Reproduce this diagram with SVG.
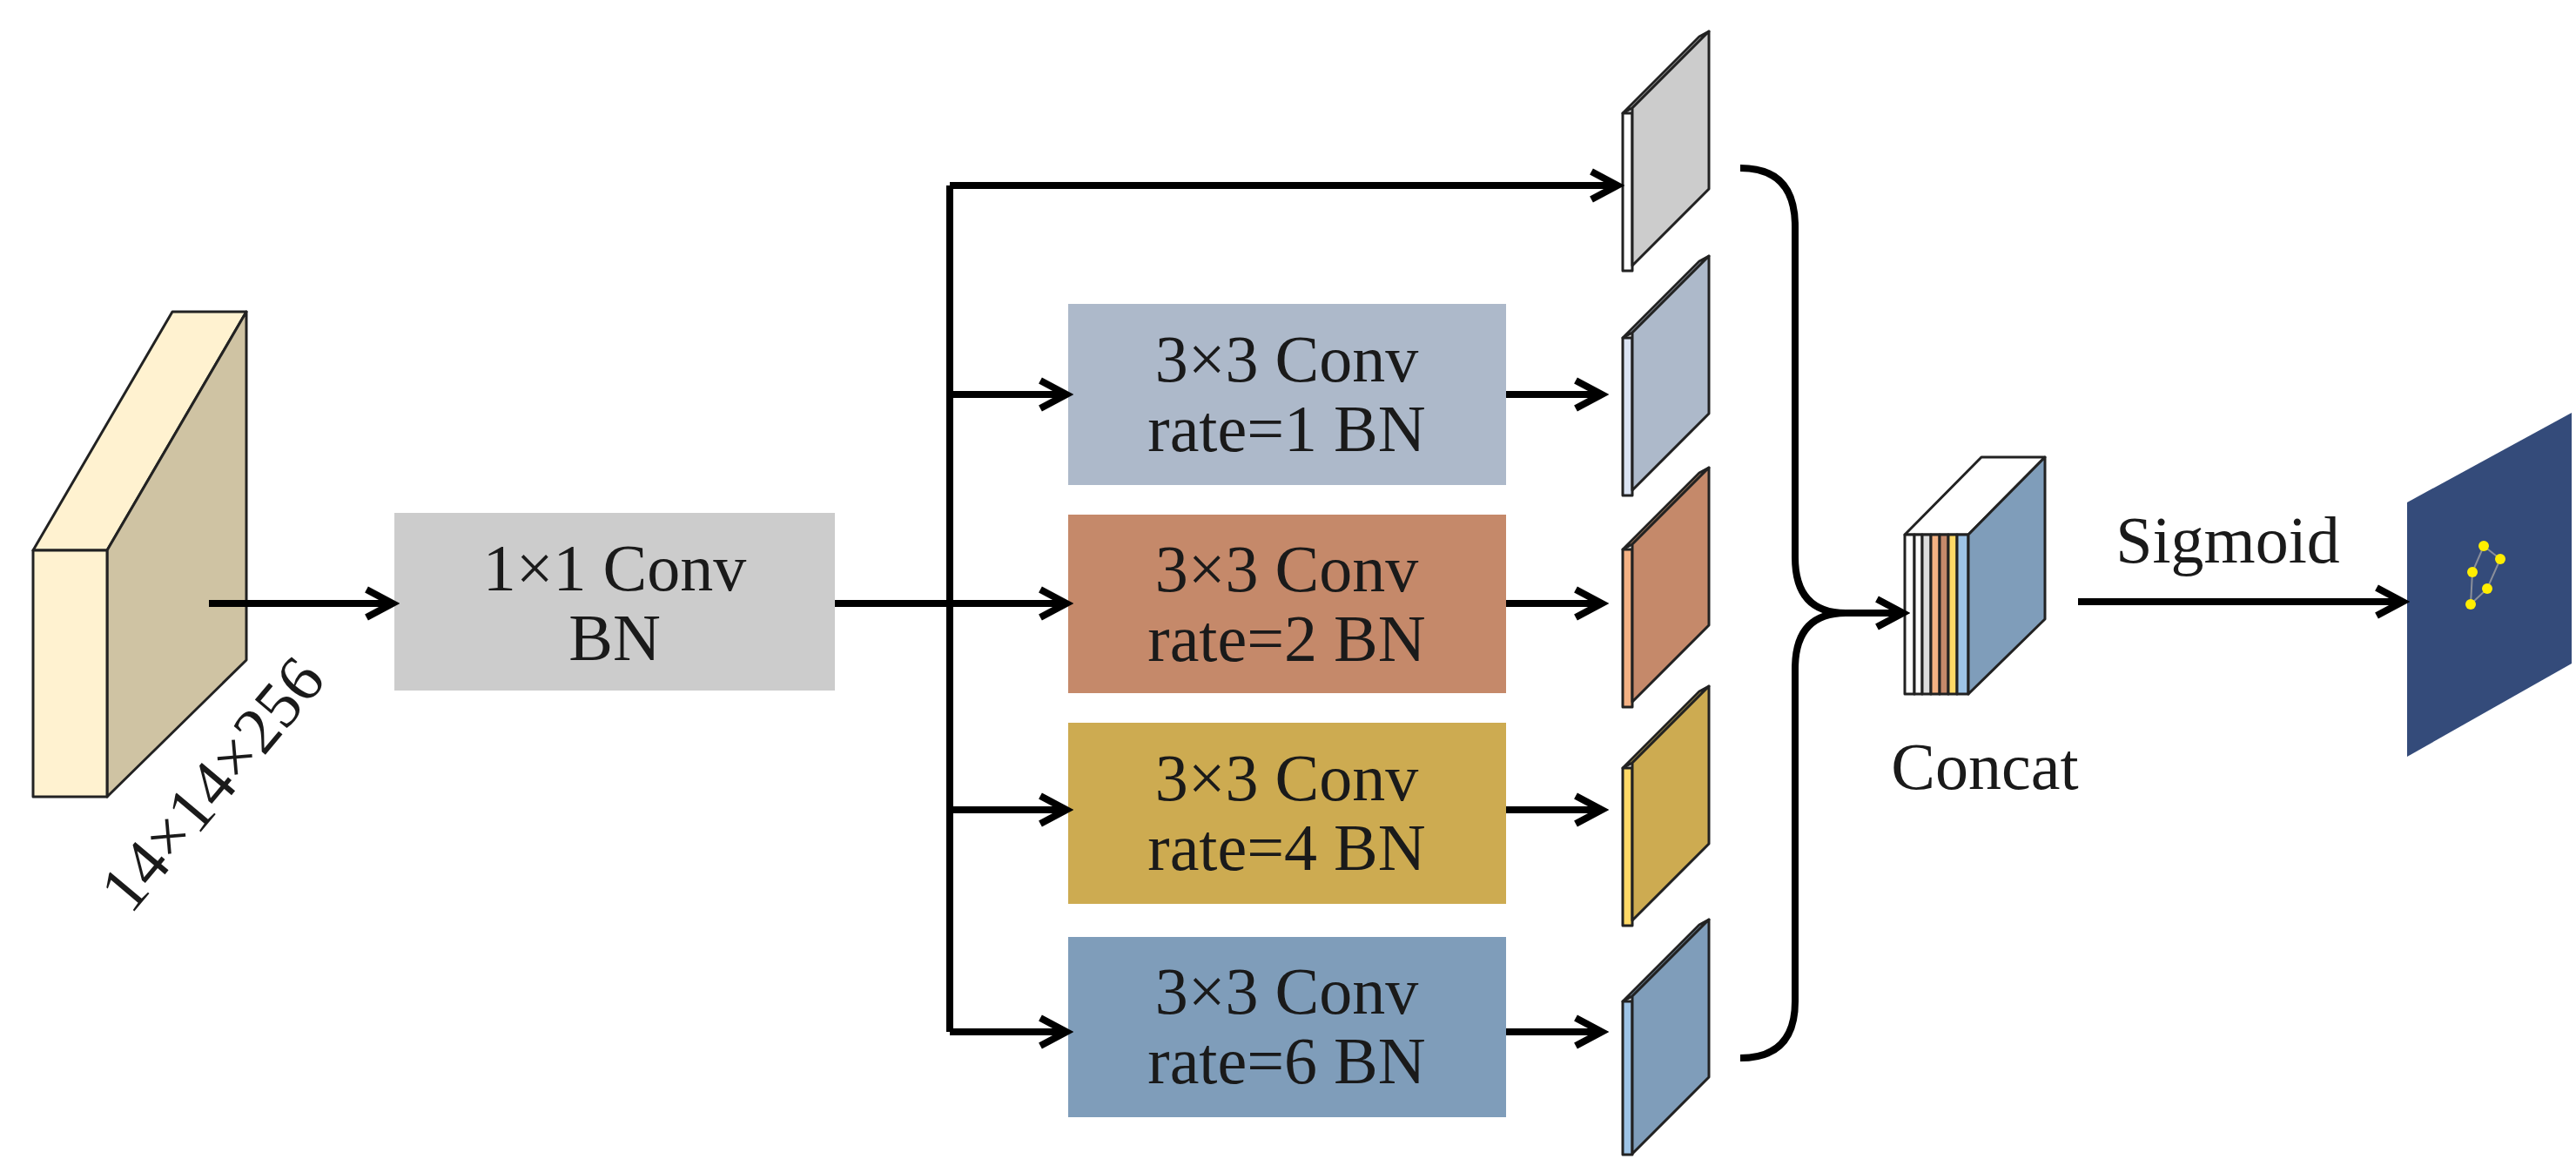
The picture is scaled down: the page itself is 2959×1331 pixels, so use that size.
<svg xmlns="http://www.w3.org/2000/svg" width="2959" height="1331" viewBox="0 0 2959 1331">
<defs>
<marker id="ah" markerUnits="userSpaceOnUse" markerWidth="44" markerHeight="44" refX="36" refY="20" orient="auto" viewBox="0 0 44 40">
<path d="M6,4 L36,20 L6,36" fill="none" stroke="#000" stroke-width="8" stroke-linejoin="miter"/>
</marker>
</defs>
<style>
text{font-family:"Liberation Serif","Times New Roman",serif;font-size:76px;fill:#1a1a1a;text-anchor:middle}
.c{fill:none;stroke:#000;stroke-width:8}
.a{fill:none;stroke:#000;stroke-width:8;marker-end:url(#ah)}
.s{stroke:#222;stroke-width:3;stroke-linejoin:round}
</style>
<rect width="2959" height="1331" fill="#fff"/>
<g id="input">
<polygon class="s" points="38,632 123,632 283,358 198,358" fill="#FFF2D0"/>
<polygon class="s" points="123,632 283,358 283,758 123,915" fill="#CFC3A3"/>
<rect class="s" x="38" y="632" width="85" height="283" fill="#FFF2D0"/>
<text transform="translate(243,900) rotate(-50)" y="26">14×14×256</text>
</g>
<g id="conv1">
<rect x="453" y="589" width="506" height="204" fill="#CCCCCC"/>
<text x="706" y="678">1×1 Conv</text>
<text x="706" y="758">BN</text>
</g>
<g id="b1"><rect x="1227" y="349" width="503" height="208" fill="#ADB9CA"/><text x="1478" y="438">3×3 Conv</text><text x="1478" y="518">rate=1 BN</text></g>
<g id="b2"><rect x="1227" y="591" width="503" height="205" fill="#C5896A"/><text x="1478" y="679">3×3 Conv</text><text x="1478" y="759">rate=2 BN</text></g>
<g id="b3"><rect x="1227" y="830" width="503" height="208" fill="#CDAB51"/><text x="1478" y="919">3×3 Conv</text><text x="1478" y="999">rate=4 BN</text></g>
<g id="b4"><rect x="1227" y="1076" width="503" height="207" fill="#7F9DBA"/><text x="1478" y="1164">3×3 Conv</text><text x="1478" y="1244">rate=6 BN</text></g>
<g id="slabs">
<g id="f0"><polygon class="s" points="1864,130 1875,124 1963,36 1952,42" fill="#F2F2F2"/><rect class="s" x="1864" y="130" width="11" height="181" fill="#FFFFFF"/><polygon class="s" points="1875,124 1963,36 1963,217 1875,305" fill="#CCCCCC"/></g>
<g id="f1"><polygon class="s" points="1864,388 1875,382 1963,294 1952,300" fill="#DAE3F3"/><rect class="s" x="1864" y="388" width="11" height="181" fill="#DAE3F3"/><polygon class="s" points="1875,382 1963,294 1963,475 1875,563" fill="#ADB9CA"/></g>
<g id="f2"><polygon class="s" points="1864,631 1875,625 1963,537 1952,543" fill="#F4B183"/><rect class="s" x="1864" y="631" width="11" height="181" fill="#F4B183"/><polygon class="s" points="1875,625 1963,537 1963,718 1875,806" fill="#C5896A"/></g>
<g id="f3"><polygon class="s" points="1864,882 1875,876 1963,788 1952,794" fill="#FFD966"/><rect class="s" x="1864" y="882" width="11" height="181" fill="#FFD966"/><polygon class="s" points="1875,876 1963,788 1963,969 1875,1057" fill="#CDAB51"/></g>
<g id="f4"><polygon class="s" points="1864,1150 1875,1144 1963,1056 1952,1062" fill="#9DC3E6"/><rect class="s" x="1864" y="1150" width="11" height="176" fill="#9DC3E6"/><polygon class="s" points="1875,1144 1963,1056 1963,1237 1875,1325" fill="#7F9DBA"/></g>
</g>
<g id="concat">
<polygon class="s" points="2188,614 2276,525 2349,525 2261,614" fill="#FFFFFF"/>
<rect class="s" x="2188" y="614" width="11" height="183" fill="#FFFFFF"/>
<rect class="s" x="2199" y="614" width="9" height="183" fill="#FFFFFF"/>
<rect class="s" x="2208" y="614" width="10" height="183" fill="#DDDDDD"/>
<rect class="s" x="2218" y="614" width="10" height="183" fill="#F4B183"/>
<rect class="s" x="2228" y="614" width="10" height="183" fill="#C5896A"/>
<rect class="s" x="2238" y="614" width="10" height="183" fill="#FFD966"/>
<rect class="s" x="2248" y="614" width="13" height="183" fill="#9DC3E6"/>
<polygon class="s" points="2261,614 2349,525 2349,711 2261,797" fill="#7F9DBA"/>
<text x="2280" y="906">Concat</text>
</g>
<g id="output">
<polygon points="2765,577 2954,474 2954,762 2765,869" fill="#344B7A"/>
<polyline points="2853,627 2872,642 2857,676 2838,694 2840,657 2853,627" fill="none" stroke="#8A8F9A" stroke-width="2"/>
<g fill="#FFEE00"><circle cx="2853" cy="627" r="6"/><circle cx="2872" cy="642" r="6"/><circle cx="2840" cy="657" r="6"/><circle cx="2857" cy="676" r="6"/><circle cx="2838" cy="694" r="6"/></g>
</g>
<g id="connectors">
<path class="a" d="M240,693 H451"/>
<path class="c" d="M959,693 H1091"/>
<path class="c" d="M1091,213 V1185"/>
<path class="a" d="M1091,213 H1858"/>
<path class="a" d="M1091,453 H1225"/>
<path class="a" d="M1091,693 H1225"/>
<path class="a" d="M1091,930 H1225"/>
<path class="a" d="M1091,1185 H1225"/>
<path class="a" d="M1730,453 H1840"/>
<path class="a" d="M1730,693 H1840"/>
<path class="a" d="M1730,930 H1840"/>
<path class="a" d="M1730,1185 H1840"/>
<path class="c" d="M1999,193 Q2062,193 2062,260 V640 Q2062,704 2120,704"/>
<path class="c" d="M1999,1215 Q2062,1215 2062,1150 V768 Q2062,704 2120,704"/>
<path class="a" d="M2110,704 H2186"/>
<path class="a" d="M2387,691 H2760"/>
<text x="2559" y="646">Sigmoid</text>
</g>
</svg>
